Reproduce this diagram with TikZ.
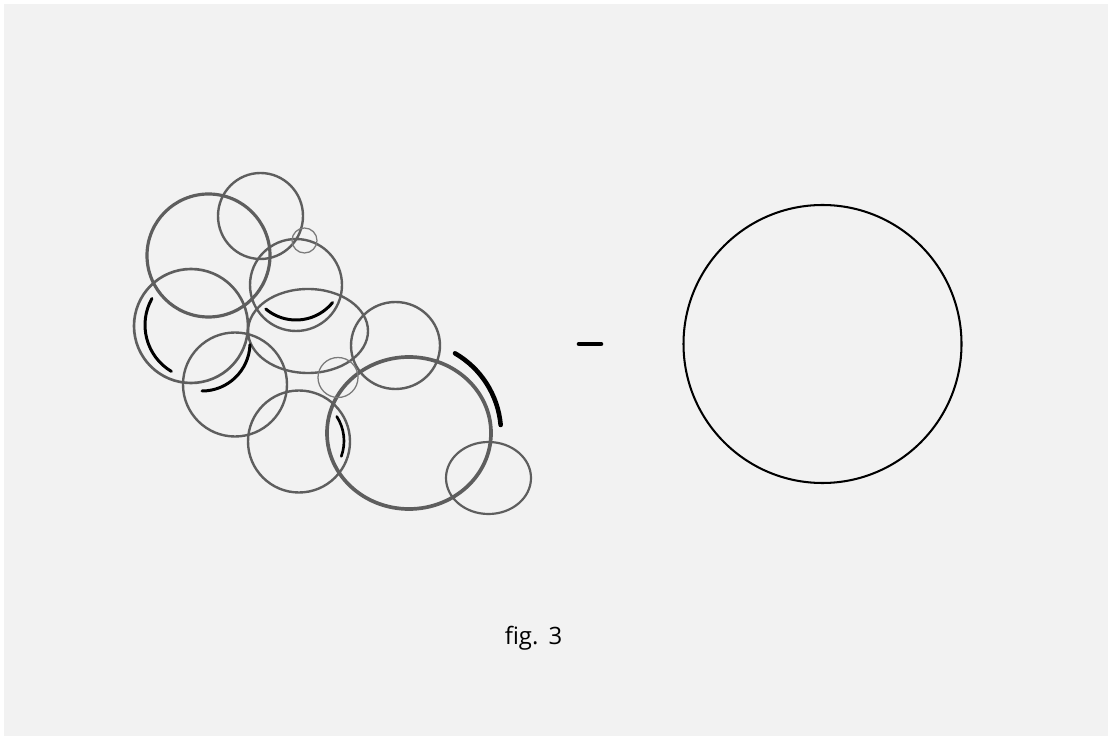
\documentclass[tikz,border=0pt]{standalone}
\usepackage{fontspec}
\setmainfont{Open Sans}

\definecolor{paper}{HTML}{F2F2F2}
\definecolor{ringgray}{HTML}{5E5E5E}
\definecolor{faintgray}{HTML}{7A7A7A}

\begin{document}
\begin{tikzpicture}[
    x=0.01cm, y=-0.01cm,
    ring/.style={draw=ringgray, line width=#1},
    faint/.style={draw=faintgray, line width=#1},
    stroke/.style={draw=black, line width=#1, line cap=round},
    caption/.style={font=\fontsize{6.8pt}{8pt}\selectfont, text=black, inner sep=0pt}
]

% Page
\fill[white] (0,0) rectangle (1112,740);
\fill[paper] (4,4) rectangle (1108,736);
\useasboundingbox (0,0) rectangle (1112,740);

% Cluster of rings
\foreach \cx/\cy/\rx/\ry/\w in {
    208.5/255.5/61.5/61.5/0.9,
    260.5/216/42.5/43/0.68,
    296/285/46/46/0.68,
    191/326/57/57/0.75,
    308/331/60/42/0.68,
    235/384.5/52/52/0.68,
    299/441.5/51/51/0.68,
    395.5/345.5/44.5/43.5/0.68,
    409/433/82/76/1.05,
    488.5/478/42.5/36/0.62} {
    \draw[ring=\w] (\cx,\cy) ellipse [x radius=\rx, y radius=\ry];
}
\foreach \cx/\cy/\r in {304.5/240.5/12.5, 338/377.5/20} {
    \draw[faint=0.36] (\cx,\cy) circle [radius=\r];
}

% Black arcs
\draw[stroke=0.85] ([shift={(-150.6:54)}]199,325) arc[start angle=-150.6, end angle=-239.2, radius=54];
\draw[stroke=0.85] ([shift={(2:48)}]202,343) arc[start angle=2, end angle=90, radius=48];
\draw[stroke=0.85] ([shift={(130:47)}]296,273) arc[start angle=130, end angle=39, radius=47];
\draw[stroke=0.75] ([shift={(-33:45)}]299,441) arc[start angle=-33, end angle=20, radius=45];
\draw[stroke=1.3] ([shift={(-60:92)}]409,433) arc[start angle=-60, end angle=-5, radius=92];

% Minus sign and single circle
\coordinate (dashL) at (579,344);
\coordinate (dashR) at (601,344);
\draw[stroke=1.3] (dashL) -- (dashR);
\draw[draw=black, line width=0.58pt] (822.5,344) circle [radius=139];

% Caption
\node[caption] (figlabel) at (533.5,638) {fig.\hspace{0.42em}3};

\end{tikzpicture}
\end{document}
